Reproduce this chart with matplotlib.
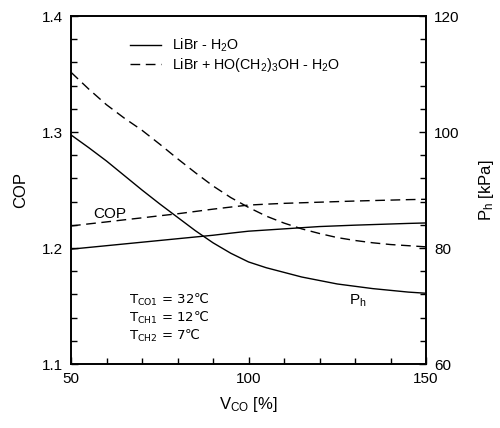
import matplotlib
matplotlib.use('Agg')
from matplotlib import pyplot as plt
from matplotlib.ticker import MultipleLocator

plt.rcParams['font.family'] = ['Liberation Sans', 'DejaVu Sans']
plt.rcParams['mathtext.fontset'] = 'custom'
plt.rcParams['mathtext.rm'] = 'Liberation Sans'
plt.rcParams['mathtext.it'] = 'Liberation Sans'

# cooling water flow rate, % of design
v_co = [50, 55, 60, 65, 70, 75, 80, 85, 90, 95, 100,
        105, 110, 115, 120, 125, 130, 135, 140, 145, 150]

cop_libr = [1.199, 1.2005, 1.202, 1.2035, 1.205, 1.2065, 1.208, 1.2095, 1.211, 1.2128, 1.2145,
            1.2155, 1.2165, 1.2175, 1.2185, 1.2191, 1.2197, 1.2202, 1.2207, 1.2212, 1.2216]
cop_mix = [1.219, 1.2208, 1.2225, 1.2243, 1.226, 1.2278, 1.2295, 1.2315, 1.2335, 1.2353, 1.237,
           1.2378, 1.2385, 1.239, 1.2395, 1.24, 1.2405, 1.2409, 1.2413, 1.2417, 1.242]

ph_libr = [99.5, 97.3, 95.0, 92.5, 90.0, 87.6, 85.3, 83.0, 80.9, 79.1, 77.6,
           76.6, 75.8, 75.0, 74.4, 73.8, 73.4, 73.0, 72.7, 72.4, 72.2]
ph_mix = [110.3, 107.4, 104.7, 102.4, 100.3, 97.9, 95.4, 93.0, 90.7, 88.7, 87.0,
          85.5, 84.3, 83.3, 82.5, 81.8, 81.3, 80.9, 80.6, 80.4, 80.2]

# operating temperatures, degC
conditions = [('CO1', 32), ('CH1', 12), ('CH2', 7)]

dash = (0, (7, 4))

fig = plt.figure(figsize=(5, 4.28), dpi=100)
ax = fig.add_axes([0.142, 0.1495, 0.71, 0.8131])
ax2 = ax.twinx()

l1, = ax.plot(v_co, cop_libr, c='black', lw=1.0)
l2, = ax.plot(v_co, cop_mix, c='black', lw=1.0, linestyle=dash)
ax2.plot(v_co, ph_libr, c='black', lw=1.0)
ax2.plot(v_co, ph_mix, c='black', lw=1.0, linestyle=dash)

ax.set_xlim(50, 150)
ax.set_ylim(1.1, 1.4)
ax2.set_ylim(60, 120)

ax.xaxis.set_major_locator(MultipleLocator(50))
ax.xaxis.set_minor_locator(MultipleLocator(10))
ax.yaxis.set_major_locator(MultipleLocator(0.1))
ax.yaxis.set_minor_locator(MultipleLocator(0.02))
ax2.yaxis.set_major_locator(MultipleLocator(20))
ax2.yaxis.set_minor_locator(MultipleLocator(4))

ax.tick_params(axis='both', which='both', direction='in', labelsize=11,
               top=False, right=False, width=1.0)
ax.tick_params(axis='both', which='major', length=5, pad=6)
ax.tick_params(axis='both', which='minor', length=4)
ax2.tick_params(axis='y', which='both', direction='in', labelsize=11, width=1.0)
ax2.tick_params(axis='y', which='major', length=5, pad=6)
ax2.tick_params(axis='y', which='minor', length=4)

for a in (ax, ax2):
    for s in a.spines.values():
        s.set_linewidth(1.2)

ax.set_xlabel('V$_{\\mathregular{CO}}$ [%]', fontsize=12, labelpad=6)
ax.set_ylabel('COP', fontsize=12, labelpad=10)
ax2.set_ylabel('P$_{\\mathregular{h}}$ [kPa]', fontsize=12, labelpad=12, rotation=90)

ax.legend([l1, l2], ['LiBr - H$_2$O', 'LiBr + HO(CH$_2$)$_3$OH - H$_2$O'],
          loc='upper left', bbox_to_anchor=(0.13, 0.978), frameon=False,
          fontsize=10.3, handlelength=2.2, handletextpad=0.7, labelspacing=0.15)

ax.text(56.2, 1.226, 'COP', fontsize=11)
ax.text(128.3, 1.151, 'P$_{\\mathregular{h}}$', fontsize=11)

# DejaVu Sans carries the degree-Celsius sign
y_txt = 1.152
for name, temp in conditions:
    ax.text(66.2, y_txt, 'T$_{\\mathregular{%s}}$ = %d\u2103' % (name, temp),
            fontsize=9.5, family='DejaVu Sans')
    y_txt -= 0.0155

fig.savefig('out.png', dpi=100)
